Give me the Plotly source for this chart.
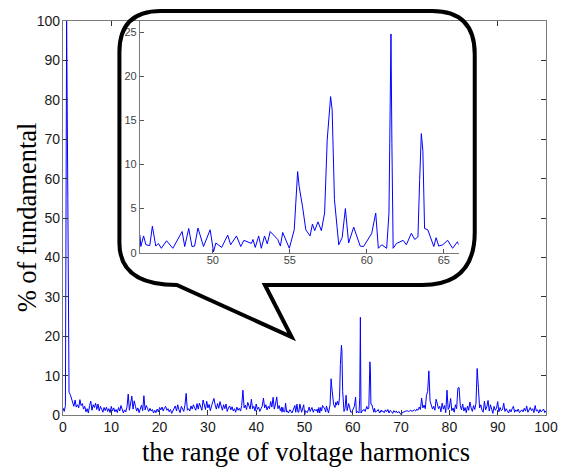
import numpy as np
import plotly.graph_objects as go

# ---------------- data ----------------
# segment A: harmonic order 0 .. 45, step 0.25
seg_a_start, seg_a_step = 0.0, 0.25
seg_a_y = [
    1.8, 0.9, 2.4, 100.0,
    55.0, 5.8, 5.2, 4.0,
    3.0, 2.2, 3.8, 2.0,
    2.6, 1.8, 3.9, 2.4,
    2.9, 1.5, 2.2, 0.8,
    1.6, 0.5, 2.4, 3.5,
    1.2, 2.6, 1.9, 3.0,
    1.4, 2.8, 1.0, 2.2,
    1.5, 0.7, 1.9, 1.1,
    2.0, 0.9, 1.6, 0.6,
    2.2, 1.0, 1.8, 0.8,
    1.4, 0.6, 1.9, 1.0,
    2.4, 1.2, 0.5, 1.3,
    0.8, 2.1, 5.3, 1.2,
    2.6, 4.8, 1.5, 3.6,
    2.2, 1.0, 1.8, 0.6,
    1.5, 2.5, 1.1, 4.9,
    1.3, 2.4, 1.6, 0.9,
    1.7, 1.0, 1.4, 0.5,
    1.2, 0.6, 1.5, 0.8,
    1.9, 1.3, 2.0, 1.0,
    1.8, 2.2, 1.2, 1.6,
    0.8, 1.4, 0.4, 1.1,
    1.8, 2.3, 1.0, 2.6,
    1.3, 0.6, 2.2, 1.4,
    0.9, 2.5, 5.5, 1.2,
    1.6, 1.0, 2.3, 1.5,
    2.6, 1.8, 1.2, 2.9,
    1.5, 3.0, 2.0, 1.2,
    3.8, 2.2, 1.4, 3.5,
    1.8, 2.7, 1.1, 2.3,
    3.2, 4.2, 2.6, 1.5,
    2.9, 1.7, 3.4, 2.0,
    1.2, 2.6, 1.6, 2.8,
    0.9, 1.8, 2.3, 1.3,
    2.1, 1.0, 1.6, 0.7,
    2.0, 1.2, 1.7, 1.0,
    2.4, 6.3, 1.8, 2.5,
    1.4, 3.2, 2.0, 1.5,
    4.0, 1.6, 2.2, 1.0,
    2.8, 1.4, 2.0, 0.9,
    1.6, 2.3, 4.3, 1.8,
    2.6, 1.3, 2.2, 1.6,
    3.4, 2.0, 4.5, 1.5,
    2.8, 4.6, 1.6, 2.4,
    1.1,
]

# segment B: the zoomed region 45.3 .. 66
seg_b_x = [
    45.27, 45.33, 45.51, 45.66, 45.91, 46.08, 46.30, 46.47, 46.66, 47.00,
    47.41, 48.01, 48.18, 48.44, 48.65, 48.82, 49.04, 49.40, 49.83, 50.05,
    50.20, 50.58, 50.97, 51.16, 51.54, 51.82, 52.02, 52.51, 52.61, 52.76,
    52.98, 53.15, 53.36, 53.54, 53.73, 54.22, 54.39, 54.54, 54.97, 55.29,
    55.51, 55.61, 55.83, 56.04, 56.32, 56.47, 56.62, 56.83, 57.05, 57.26,
    57.43, 57.65, 57.75, 57.90, 58.18, 58.40, 58.61, 58.82, 59.15, 59.57,
    59.79, 60.05, 60.32, 60.58, 60.75, 60.97, 61.29, 61.44, 61.50, 61.57,
    61.63, 61.71, 61.93, 62.36, 62.57, 62.89, 63.11, 63.32, 63.43, 63.54,
    63.64, 63.75, 63.96, 64.07, 64.35, 64.50, 64.67, 64.93, 65.25, 65.57,
    65.89, 65.96,
]
seg_b_y = [
    2.0, 0.7, 1.9, 0.9, 0.8, 3.0, 0.75, 1.05, 0.5, 1.35,
    0.5, 2.4, 0.7, 2.75, 0.7, 0.75, 2.8, 0.7, 2.6, 0.1,
    1.1, 0.6, 2.0, 0.9, 1.9, 0.7, 1.4, 1.05, 1.5, 0.6,
    1.9, 0.5, 1.9, 1.0, 2.4, 1.5, 0.75, 2.3, 0.5, 2.6,
    9.2, 7.5, 5.2, 2.6, 1.9, 3.25, 2.5, 3.5, 2.5, 4.5,
    12.8, 17.7, 16.2, 6.0, 0.9, 1.7, 5.0, 1.1, 2.9, 0.75,
    0.7, 1.5, 2.2, 4.5, 0.5, 0.9, 0.5, 4.5, 12.8, 24.8,
    12.4, 0.5, 1.05, 1.4, 0.9, 2.2, 1.5, 1.8, 8.2, 13.5,
    11.6, 2.75, 2.6, 2.0, 0.7, 1.7, 0.75, 0.9, 1.4, 0.5,
    1.25, 0.9,
]

# segment C: 66.25 .. 100, step 0.25
seg_c_start, seg_c_step = 66.25, 0.25
seg_c_y = [
    1.0, 0.6, 1.3,
    0.8, 1.4, 0.5, 1.2,
    0.9, 0.4, 1.1, 0.7,
    1.0, 0.5, 0.9, 0.3,
    0.1, 0.6, 0.8, 0.9,
    1.0, 1.1, 0.9, 1.0,
    1.2, 0.9, 1.1, 1.3,
    1.0, 1.5, 1.2, 2.0,
    1.4, 4.3, 1.8, 2.5,
    1.6, 5.0, 6.0, 11.2,
    3.5, 2.2, 1.5, 2.2,
    1.2, 4.0, 2.8, 1.6,
    2.2, 0.8, 3.0, 1.5,
    2.4, 0.6, 6.3, 1.4,
    2.0, 4.2, 1.1, 1.8,
    0.7, 2.6, 1.6, 6.8,
    7.0, 2.4, 1.3, 2.8,
    1.0, 1.9, 0.6, 2.3,
    1.2, 3.3, 1.8, 0.9,
    2.4, 1.4, 3.0, 11.8,
    7.0, 1.8, 2.6, 1.2,
    0.7, 3.5, 1.3, 2.1,
    3.7, 1.0, 2.6, 1.4,
    0.4, 2.2, 1.2, 1.7,
    3.4, 0.8, 1.9, 1.1,
    1.4, 3.0, 0.9, 1.6,
    1.2, 0.5, 1.4, 0.8,
    1.6, 2.2, 0.7, 1.3,
    0.9, 1.5, 0.6, 1.1,
    1.3, 0.8, 1.7, 1.0,
    2.3, 0.7, 1.5, 1.9,
    1.1, 1.6, 0.6, 2.4,
    1.0, 1.3, 0.5, 1.4,
    0.8, 1.2, 1.5, 0.6,
    1.1,
]

main_x_ticks = [0, 10, 20, 30, 40, 50, 60, 70, 80, 90, 100]
main_y_ticks = [0, 10, 20, 30, 40, 50, 60, 70, 80, 90, 100]
inset_x_ticks = [50, 55, 60, 65]
inset_y_ticks = [0, 5, 10, 15, 20, 25]
x_label = "the range of voltage harmonics"
y_label = "% of fundamental"

seg_a_x = [seg_a_start + i * seg_a_step for i in range(len(seg_a_y))]
seg_c_x = [seg_c_start + i * seg_c_step for i in range(len(seg_c_y))]
xs = seg_a_x + seg_b_x + seg_c_x
ys = seg_a_y + seg_b_y + seg_c_y

# ---------------- layout geometry (pixels) ----------------
W, H = 570, 468
ML, MR, MT, MB = 63, 19, 21, 53
PW, PH = W - ML - MR, H - MT - MB


def px(xp):
    return (xp - ML) / PW


def py(yp):
    return (H - MB - yp) / PH


AX = "#7a7a7a"
BLUE = "#0000ff"

fig = go.Figure()
fig.add_trace(go.Scatter(x=xs, y=ys, mode="lines",
                         line=dict(color=BLUE, width=1), xaxis="x", yaxis="y",
                         hoverinfo="skip", showlegend=False))
inset_x = [x for x in xs if 45.2 <= x <= 66.0]
inset_y = [y for x, y in zip(xs, ys) if 45.2 <= x <= 66.0]
fig.add_trace(go.Scatter(x=inset_x, y=inset_y, mode="lines",
                         line=dict(color=BLUE, width=1), xaxis="x2", yaxis="y2",
                         hoverinfo="skip", showlegend=False))

tickfont = dict(family="Liberation Sans, Arial, sans-serif", size=14, color="#1a1a1a")
inset_font = dict(family="Liberation Sans, Arial, sans-serif", size=11, color="#444444")

# bubble outline in pixel coordinates
pts = [
    ("M", 162, 11), ("L", 436, 11), ("Q", 479, 11, 479, 54), ("L", 479, 232),
    ("Q", 479, 285, 426, 285), ("L", 267, 285), ("L", 294, 337), ("L", 178, 285),
    ("Q", 120, 285, 120, 243), ("L", 120, 52), ("Q", 120, 11, 162, 11),
]
path = ""
for p in pts:
    cmd, coords = p[0], p[1:]
    conv = []
    for i in range(0, len(coords), 2):
        conv.append(f"{px(coords[i]):.5f},{py(coords[i + 1]):.5f}")
    path += cmd + " " + " ".join(conv) + " "
path += "Z"

in_left, in_right, in_bottom = 140.7, 462.7, 252.7
in_px_per_y = 8.82

title_font = dict(family="Liberation Serif, Times New Roman, serif", size=26.5, color="black")

fig.update_layout(
    width=W, height=H,
    margin=dict(l=ML, r=MR, t=MT, b=MB, pad=0),
    paper_bgcolor="white", plot_bgcolor="white",
    xaxis=dict(range=[0, 100], tickvals=main_x_ticks, ticks="inside", ticklen=5,
               tickcolor="#333333", showline=True, linecolor=AX, linewidth=1.2,
               mirror="allticks", showgrid=False, zeroline=False, tickfont=tickfont,
               ticklabelstandoff=-1, domain=[0, 1], anchor="y"),
    yaxis=dict(range=[0, 100], tickvals=main_y_ticks, ticks="inside", ticklen=5,
               tickcolor="#333333", showline=True, linecolor=AX, linewidth=1.2,
               mirror="allticks", showgrid=False, zeroline=False, tickfont=tickfont,
               ticklabelstandoff=-1, domain=[0, 1], anchor="x"),
    xaxis2=dict(range=[45.27, 65.96], tickvals=inset_x_ticks, ticks="inside", ticklen=4,
                tickcolor="#555555", showline=True, linecolor=AX, linewidth=1,
                showgrid=False, zeroline=False, tickfont=inset_font,
                ticklabelstandoff=-3,
                domain=[px(in_left), px(in_right)], anchor="y2"),
    yaxis2=dict(range=[0, (in_bottom - MT) / in_px_per_y], tickvals=inset_y_ticks,
                ticks="inside", ticklen=4, tickcolor="#555555", showline=True,
                linecolor=AX, linewidth=1, showgrid=False, zeroline=False,
                tickfont=inset_font, ticklabelstandoff=0,
                domain=[py(in_bottom), 1], anchor="x2"),
    shapes=[dict(type="path", path=path, xref="paper", yref="paper",
                 line=dict(color="black", width=4), fillcolor="rgba(0,0,0,0)",
                 layer="above")],
    annotations=[
        dict(text=x_label, x=px(309), y=py(452), xref="paper", yref="paper",
             showarrow=False, xanchor="center", yanchor="middle", font=title_font),
        dict(text=y_label, x=px(27), y=py(217), xref="paper", yref="paper",
             showarrow=False, xanchor="center", yanchor="middle", textangle=-90,
             font=title_font),
    ],
)

fig.write_html("out.html", config={"displayModeBar": False},
               post_script="document.body.style.margin='0px';document.body.style.overflow='hidden';")
